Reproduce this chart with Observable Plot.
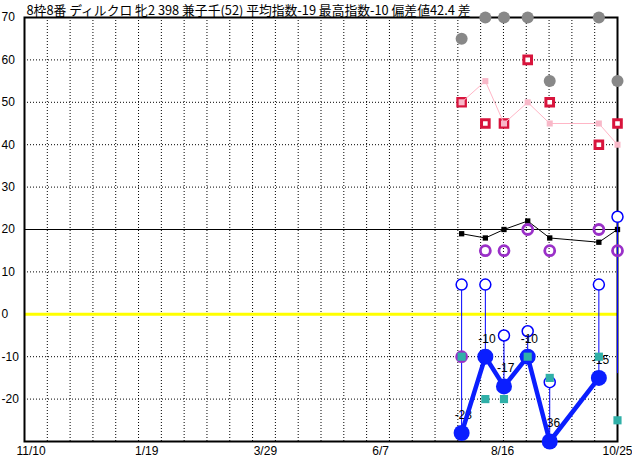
<!DOCTYPE html>
<html>
<head>
<meta charset="utf-8">
<script src="https://cdn.jsdelivr.net/npm/d3@7"></script>
<script src="https://cdn.jsdelivr.net/npm/@observablehq/plot@0.6"></script>
<style>
  html, body { margin: 0; padding: 0; background: #fff; }
  #chart svg { display: block; }
</style>
</head>
<body>
<div id="chart"></div>
<script>
// ---- data ----
const title = "8枠8番 ディルクロ 牝2 398 兼子千(52) 平均指数-19 最高指数-10 偏差値42.4 差";
const raceDates = ["2020-07-25","2020-08-08","2020-08-19","2020-09-02","2020-09-15","2020-10-14","2020-10-25"];
const grayVals    = [65, 70, 70, 70, 55, 70, 55];
const crimsonVals = [50, 45, 45, 60, 50, 40, 45];
const pinkVals    = [50, 55, 45, 50, 45, 45, 40];
const blackVals   = [19, 18, 20, 22, 18, 17, 20];
const purpleVals  = [-10, 15, 15, 20, 15, 20, 15];
const openVals    = [7, 7, -5, -4, -16, 7, 23];
const resultVals  = [-28, -10, -17, -10, -36, -15, -14];
const hasResult   = [true, true, true, true, true, true, false];
const tealVals    = [-10, -20, -20, -10, -15, -10, -25];

const xTickDates  = ["2019-11-10","2020-01-19","2020-03-29","2020-06-07","2020-08-16","2020-10-25"];
const xTickLabels = ["11/10","1/19","3/29","6/7","8/16","10/25"];
const yTicks      = [-20, -10, 0, 10, 20, 30, 40, 50, 60, 70];
const yGrid       = [-20, -10, 10, 30, 40, 50, 60];

// ---- build rows ----
const parse = d3.utcParse("%Y-%m-%d");
const rows = raceDates.map((d, i) => ({
  date: parse(d),
  gray: grayVals[i], crimson: crimsonVals[i], pink: pinkVals[i], black: blackVals[i],
  purple: purpleVals[i], open: openVals[i], result: resultVals[i], has: hasResult[i], teal: tealVals[i]
}));
const results = rows.filter(r => r.has);
const ticks = xTickDates.map((d, i) => ({date: parse(d), label: xTickLabels[i]}));
const x0 = ticks[0].date, x1 = ticks[ticks.length - 1].date;
const nDiv = 26;
const vGrid = d3.range(1, nDiv).map(k => new Date(+x0 + (x1 - x0) * k / nDiv));
const labelOf = new Map(ticks.map(t => [+t.date, t.label]));

const font = "'Liberation Sans', Arial, sans-serif";

const chart = Plot.plot({
  width: 632,
  height: 460,
  marginLeft: 24,
  marginRight: 15,
  marginTop: 17,
  marginBottom: 19,
  style: {fontFamily: font, fontSize: "12px", background: "#fff", color: "#000", overflow: "visible"},
  x: {type: "utc", domain: [x0, x1]},
  y: {domain: [-30, 70], clamp: true},
  marks: [
    // grid
    Plot.ruleX(vGrid, {stroke: "#000", strokeWidth: 1, strokeDasharray: "1,2", strokeOpacity: 1}),
    Plot.ruleY(yGrid, {stroke: "#000", strokeWidth: 1, strokeDasharray: "1,2", strokeOpacity: 1}),
    Plot.ruleY([0], {stroke: "#ffff00", strokeWidth: 3}),
    Plot.ruleY([20], {stroke: "#000", strokeWidth: 1}),
    Plot.frame({stroke: "#000", strokeWidth: 2}),
    // axes
    Plot.axisY(yTicks, {anchor: "left", tickSize: 0, tickPadding: 0, textAnchor: "start", dx: -23, fontSize: 12, fontFamily: font, label: null, tickFormat: d => d < 0 ? "-" + Math.abs(d) : String(d)}),
    Plot.axisX(ticks.slice(0, -1).map(t => t.date), {anchor: "bottom", tickSize: 0, tickPadding: 5, textAnchor: "start", dx: -8, fontSize: 12, fontFamily: font, label: null, tickFormat: d => labelOf.get(+d)}),
    Plot.axisX(ticks.slice(-1).map(t => t.date), {anchor: "bottom", tickSize: 0, tickPadding: 5, textAnchor: "end", dx: 15, fontSize: 12, fontFamily: font, label: null, tickFormat: d => labelOf.get(+d)}),
    // title
    Plot.text([title], {frameAnchor: "top-left", dx: 2, dy: -7, textAnchor: "start", lineAnchor: "middle", fontSize: 12.8, fontFamily: "'Noto Sans CJK JP', sans-serif", fill: "#000"}),
    // gray circles
    Plot.dot(rows, {x: "date", y: "gray", r: 6, fill: "#888888", stroke: "none"}),
    // crimson hollow squares
    Plot.dot(rows, {x: "date", y: "crimson", symbol: "square", r: 4.3, fill: "#fff", stroke: "#d8143c", strokeWidth: 3}),
    // pink line
    Plot.line(rows, {x: "date", y: "pink", stroke: "#ffb6c6", strokeWidth: 1}),
    Plot.dot(rows, {x: "date", y: "pink", symbol: "square", r: 3.4, fill: "#f8b8c8", stroke: "none"}),
    // black line
    Plot.line(rows, {x: "date", y: "black", stroke: "#000", strokeWidth: 1}),
    Plot.dot(rows, {x: "date", y: "black", symbol: "square", r: 3, fill: "#000", stroke: "none"}),
    // blue vertical rules
    Plot.ruleX(rows, {x: "date", y1: "open", y2: "result", stroke: "#0000ff", strokeWidth: 1}),
    // open blue circles
    Plot.dot(rows, {x: "date", y: "open", r: 5.5, fill: "#fff", stroke: "#0000ff", strokeWidth: 1.5}),
    // labels
    Plot.text(results, {x: "date", y: "result", text: d => String(d.result), textAnchor: "start", dx: -7, dy: -18, fontSize: 12, fontFamily: font, fill: "#000"}),
    // result line + dots
    Plot.line(results, {x: "date", y: "result", stroke: "#0a1eff", strokeWidth: 4.5}),
    Plot.dot(results, {x: "date", y: "result", r: 8, fill: "#0a1eff", stroke: "none"}),
    // purple rings
    Plot.dot(rows, {x: "date", y: "purple", r: 5, fill: "none", stroke: "#9a30c8", strokeWidth: 2.8}),
    // teal squares
    Plot.dot(rows, {x: "date", y: "teal", symbol: "square", r: 4.6, fill: "#30b0a8", stroke: "none"})
  ]
});
document.getElementById("chart").appendChild(chart);
</script>
</body>
</html>
